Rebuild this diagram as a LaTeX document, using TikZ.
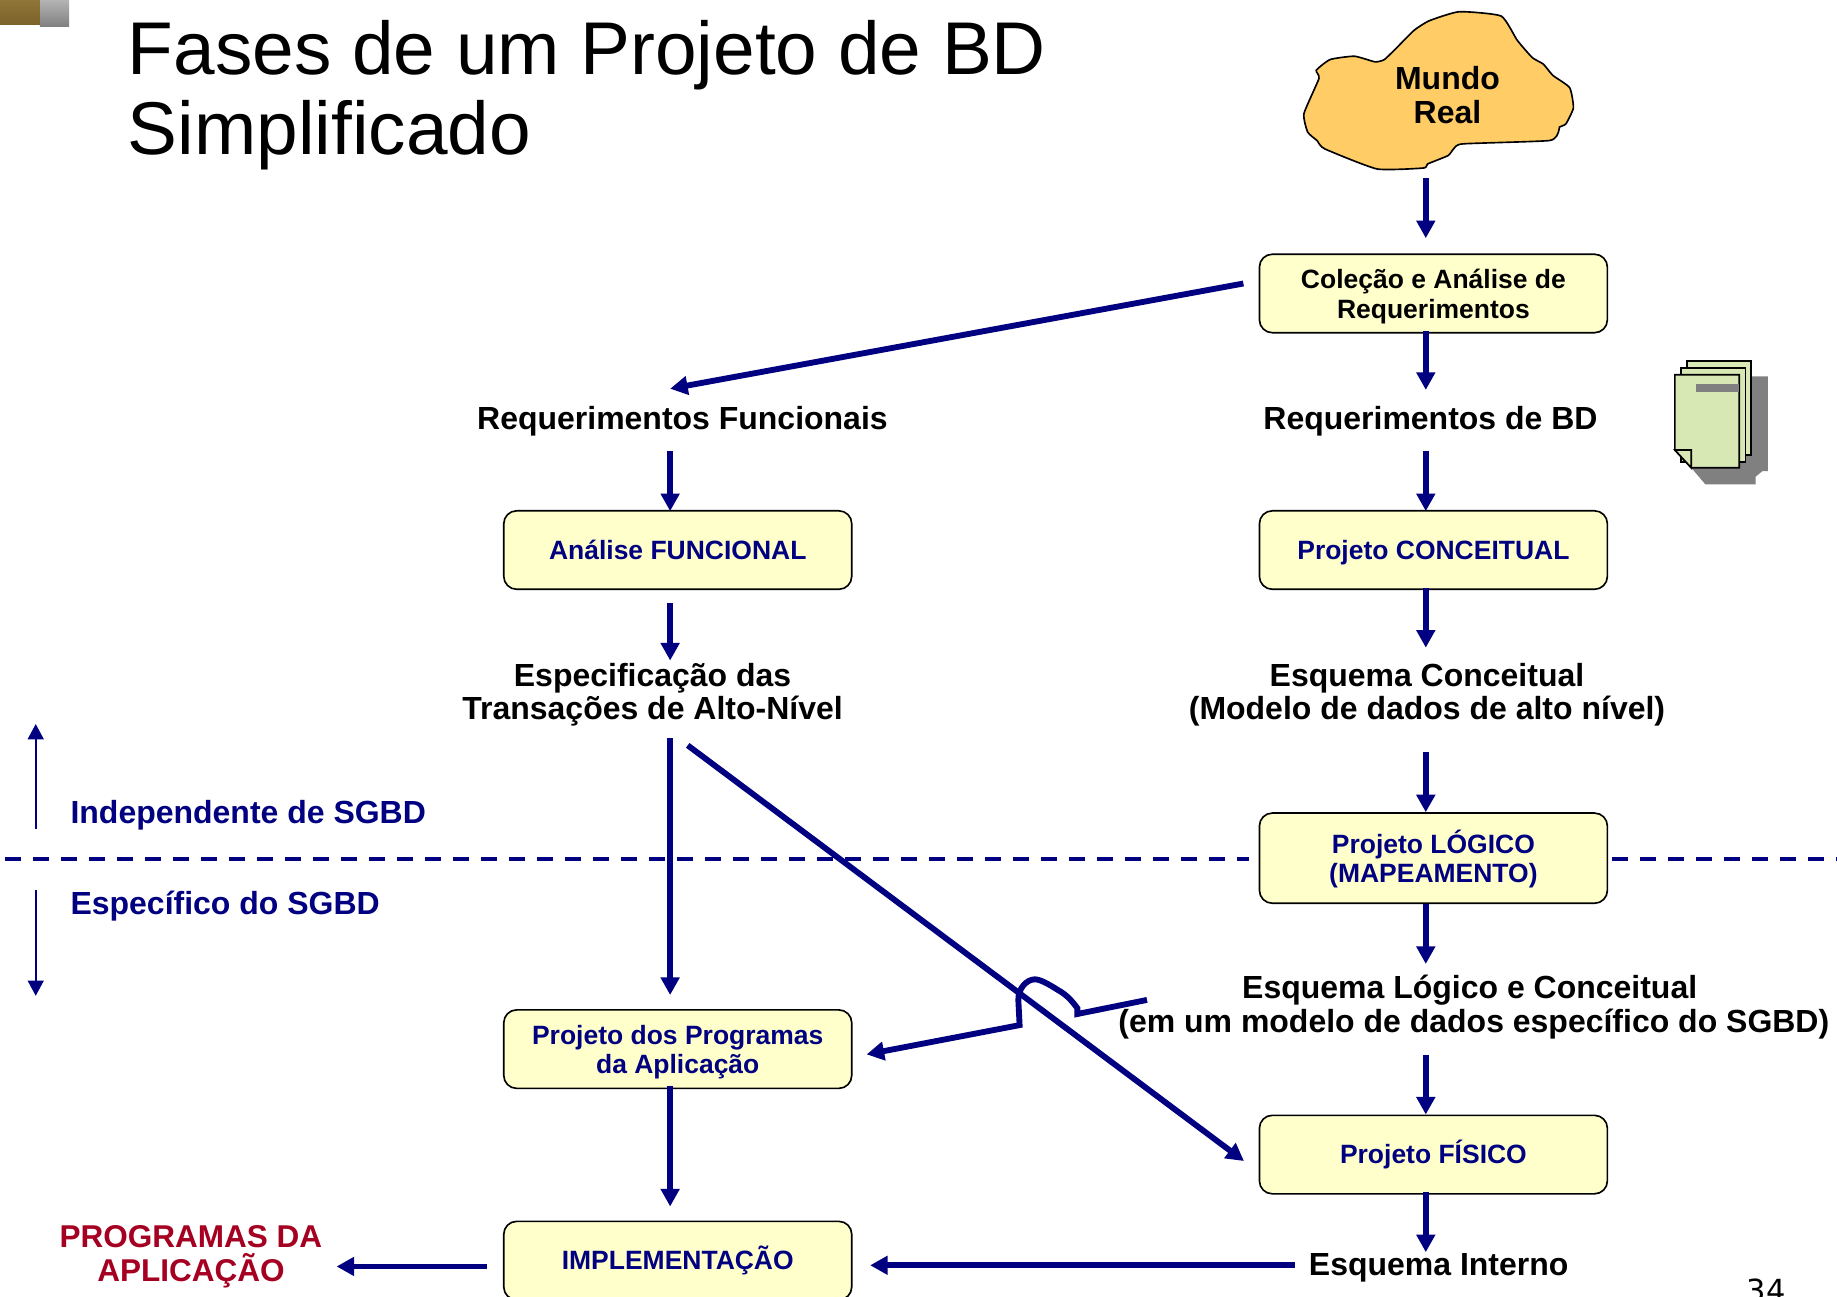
\documentclass[tikz,border=0pt]{standalone}
\usepackage{fontspec}
\setmainfont{Liberation Sans}
\newfontfamily\numfont{DejaVu Sans}
\usetikzlibrary{arrows.meta,calc}
\definecolor{navyb}{HTML}{000080}
\definecolor{boxy}{HTML}{FFFFCC}
\definecolor{blob}{HTML}{FFCC66}
\definecolor{redt}{HTML}{A50021}
\definecolor{pageg}{HTML}{D8E8B4}
\tikzset{
  procbox/.style={draw=black,line width=1.4pt,fill=boxy,rounded corners=11pt,minimum width=297pt,minimum height=67pt,inner sep=0pt,align=center,font=\fontsize{22.6}{25}\selectfont\bfseries},
  navytext/.style={text=navyb},
  flowlbl/.style={inner sep=0pt,align=center,font=\fontsize{27.3}{29}\selectfont\bfseries},
  arr/.style={draw=navyb,line width=5pt,-{Triangle[length=15pt,width=15.5pt]}},
  thinarr/.style={draw=navyb,line width=1.7pt,-{Triangle[length=13pt,width=13.5pt]}},
  docpage/.style={draw=black,line width=1.4pt,fill=pageg},
  dashline/.style={draw=navyb,line width=3.6pt,dash pattern=on 13.7pt off 10.2pt},
}
\begin{document}
\begin{tikzpicture}[x=1pt,y=-1pt]
\useasboundingbox (0,0) rectangle (1568,1107);
\fill[white] (0,0) rectangle (1568,1107);
% corner decoration
\shade[top color=black!10!white!20!gray!70!white,bottom color=gray] (34,0) rectangle (59,23);
\shade[top color={rgb,255:red,145;green,118;blue,56},bottom color={rgb,255:red,125;green,98;blue,42}] (0,0) rectangle (34,20.5);
% title
\node[anchor=north west,inner sep=0pt,align=left,font=\fontsize{63.8}{68}\selectfont] (title) at (109,17.5) {Fases de um Projeto de BD\\Simplificado};
% blob
\draw[draw=black,line width=1.4pt,fill=blob] plot[smooth cycle,tension=0.3] coordinates {
(1245.5,10)(1281.3,13.7)(1295,34.3)(1307.8,49.1)(1317.4,54.8)(1325.4,64.3)(1339.8,74.8)(1343,92)(1336.6,105.7)(1331.1,108.5)(1330.2,112.8)(1322.2,120)(1248.7,122.8)(1240.8,127)(1236,132.8)(1218.4,140)(1215.2,143.4)(1175.3,144.2)(1130.6,127)(1124.2,120)(1116.2,112.8)(1113,97)(1125.8,67)(1123.5,60)(1135.4,50.8)(1156.1,48)(1173.7,52.8)(1181.7,50.8)(1192.9,40)(1207.2,25.7)(1220,17.7)};
\node[flowlbl,minimum height=128pt] (mundo) at (1235.5,81) {Mundo\\Real};
% document icon
\fill[gray] (1494.7,321.3)--(1509,321.3)--(1509,402.1)--(1504.3,402.1)--(1498.5,407)--(1498.5,413.5)--(1455.7,413.5)--(1443.6,399.3)--(1443.6,380)--(1494.7,380)--cycle;
\draw[docpage] (1439.7,307.9) rectangle (1494.7,388.4);
\draw[docpage] (1434.6,314.2) rectangle (1489.9,394.1);
\draw[docpage] (1429.6,319.9)--(1484.5,319.9)--(1484.5,399.3)--(1443.6,399.3)--(1429.6,384.1)--cycle;
\draw[docpage] (1429.6,384.1)--(1443.6,384.1)--(1443.6,399.3)--cycle;
\fill[gray] (1447.4,327.6) rectangle (1484.5,334.7);
% boxes
\node[procbox] (coleta) at (1223.5,250.5) {\rule{0pt}{22pt}Coleção e Análise de\\Requerimentos};
\node[procbox,navytext] (analise) at (578.5,469.5) {Análise FUNCIONAL};
\node[procbox,navytext] (concep) at (1223.5,469.5) {\rule{0pt}{21pt}Projeto CONCEITUAL};
\node[procbox,navytext,minimum height=77pt] (logico) at (1223.5,732.5) {\rule{0pt}{22pt}Projeto LÓGICO\\(MAPEAMENTO)};
\node[procbox,navytext] (prog) at (578.5,895.5) {\rule{0pt}{21.5pt}Projeto dos Programas\\da Aplicação};
\node[procbox,navytext] (fisico) at (1223.5,985.5) {Projeto FÍSICO};
\node[procbox,navytext] (impl) at (578.5,1076) {IMPLEMENTAÇÃO};
% labels
\node[flowlbl,minimum height=28pt] (reqf) at (582.5,359.5) {Requerimentos Funcionais};
\node[flowlbl,minimum height=28pt] (reqbd) at (1221,359.5) {Requerimentos de BD};
\node[flowlbl,minimum height=58pt] (espec) at (557,593) {Especificação das\\Transações de Alto-Nível};
\node[flowlbl,minimum height=58pt] (esqc) at (1218,593) {Esquema Conceitual\\(Modelo de dados de alto nível)};
\node[flowlbl,minimum height=56pt] (esql) at (1258,860) {Esquema Lógico e Conceitual\hspace*{7pt}\\(em um modelo de dados específico do SGBD)};
\node[flowlbl,minimum height=28pt] (esqi) at (1228,1082) {Esquema Interno};
\node[flowlbl,text=redt,font=\fontsize{26.9}{29}\selectfont\bfseries] (appl) at (163,1073) {PROGRAMAS DA\\APLICAÇÃO};
\node[flowlbl,text=navyb,anchor=west] (indep) at (60,696) {Independente de SGBD};
\node[flowlbl,text=navyb,anchor=west] (espc) at (60,773.5) {Específico do SGBD};
\node[anchor=base,inner sep=0pt,font=\fontsize{26}{28}\selectfont\numfont] (pnum) at (1507.5,1110.5) {34};
% helper coordinates
\coordinate (colR) at (1217,0);
\coordinate (colL) at (572,0);
\coordinate (dashL) at (4,733);
\coordinate (dashR) at (1567,733);
\coordinate (upA) at (30.5,708);
\coordinate (upB) at (30.5,618);
\coordinate (downA) at (30.5,760);
\coordinate (downB) at (30.5,850);
% right column
\draw[arr,shorten <=7pt,shorten >=13pt] (colR |- mundo.south) -- (colR |- coleta.north);
\draw[arr,shorten <=-2pt,shorten >=12.5pt] (colR |- coleta.south) -- (colR |- reqbd.north);
\draw[arr,shorten <=11.5pt,shorten >=-1pt] (colR |- reqbd.south) -- (colR |- concep.north);
\draw[arr,shorten <=-2pt,shorten >=11pt] (colR |- concep.south) -- (colR |- esqc.north);
\draw[arr,shorten <=20pt] (colR |- esqc.south) -- (colR |- logico.north);
\draw[arr,shorten >=9pt] (colR |- logico.south) -- (colR |- esql.north);
\draw[arr,shorten <=12pt] (colR |- esql.south) -- (colR |- fisico.north);
\draw[arr,shorten <=-2pt,shorten >=-1pt] (colR |- fisico.south) -- (colR |- esqi.north);
% left column
\draw[arr] ([shift={(-13,-8.5)}]coleta.west) -- ([shift={(-10.5,-13.5)}]reqf.north);
\draw[arr,shorten <=11.5pt,shorten >=-1pt] (colL |- reqf.south) -- (colL |- analise.north);
\draw[arr,shorten <=11pt,shorten >=0pt] (colL |- analise.south) -- (colL |- espec.north);
\draw[arr,shorten <=8pt,shorten >=12pt] (colL |- espec.south) -- (colL |- prog.north);
\draw[arr,shorten <=-3pt,shorten >=12pt] (colL |- prog.south) -- (colL |- impl.north);
\draw[arr] ([shift={(30,14)}]espec.south) -- ([shift={(-12.5,5.5)}]fisico.west);
% bridge connector
\draw[arr] ([shift={(24.6,-6.5)}]esql.west) -- (919.6,865.5) -- (919.6,860.6)
  .. controls (914,853) and (910,849) .. (903,845)
  .. controls (895,840) and (888,836) .. (883.4,835.9)
  .. controls (876,836) and (869,844) .. (869.2,853.5)
  -- (870.3,875) -- ([shift={(12,4.5)}]prog.east);
% bottom row
\draw[arr,shorten <=12pt,shorten >=15pt] ([yshift=2pt]esqi.west) -- ([yshift=2pt]esqi.west -| impl.east);
\draw[arr,shorten <=13.5pt,shorten >=12pt] ([yshift=-5pt]impl.west) -- ([yshift=-5pt]impl.west -| appl.east);
% dashed boundary
\draw[dashline] (dashL) -- ([xshift=-8pt,yshift=-0.5pt]logico.west);
\draw[dashline] ([xshift=3pt,yshift=-0.5pt]logico.east) -- (dashR);
% small arrows
\draw[thinarr] (upA) -- (upB);
\draw[thinarr] (downA) -- (downB);
\end{tikzpicture}
\end{document}
